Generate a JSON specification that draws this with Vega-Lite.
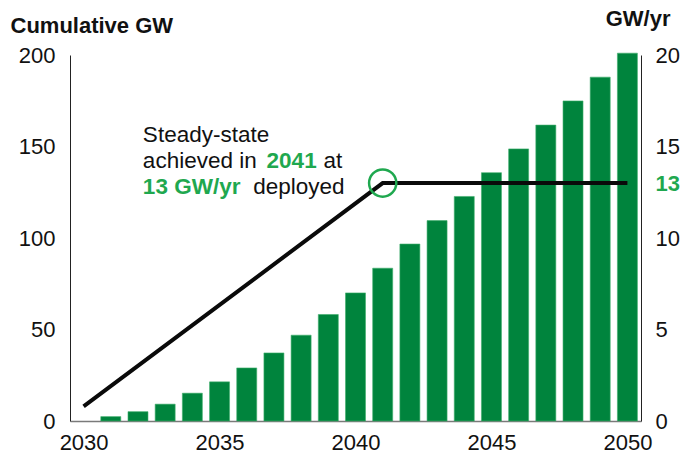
{
  "$schema": "https://vega.github.io/schema/vega-lite/v6.json",
  "width": 571,
  "height": 366,
  "autosize": {"type": "none"},
  "padding": {"left": 70, "top": 55, "right": 43, "bottom": 34},
  "background": "white",
  "config": {
    "view": {"stroke": null},
    "font": "Liberation Sans",
    "axis": {"grid": false, "ticks": false, "tickSize": 0, "labelFont": "Liberation Sans", "labelFontSize": 22, "labelColor": "#111111", "titleFont": "Liberation Sans"}
  },
  "datasets": {
    "bars": [
      {"year": 2031, "cumulative": 2.4},
      {"year": 2032, "cumulative": 5.1},
      {"year": 2033, "cumulative": 9.2},
      {"year": 2034, "cumulative": 15.2},
      {"year": 2035, "cumulative": 21.4},
      {"year": 2036, "cumulative": 29.0},
      {"year": 2037, "cumulative": 37.2},
      {"year": 2038, "cumulative": 46.9},
      {"year": 2039, "cumulative": 58.2},
      {"year": 2040, "cumulative": 70.0},
      {"year": 2041, "cumulative": 83.5},
      {"year": 2042, "cumulative": 96.7},
      {"year": 2043, "cumulative": 109.5},
      {"year": 2044, "cumulative": 122.7},
      {"year": 2045, "cumulative": 135.7},
      {"year": 2046, "cumulative": 148.7},
      {"year": 2047, "cumulative": 161.7},
      {"year": 2048, "cumulative": 174.9},
      {"year": 2049, "cumulative": 187.9},
      {"year": 2050, "cumulative": 201.0}
    ],
    "line": [
      {"year": 2030, "annual": 0.8},
      {"year": 2041, "annual": 13},
      {"year": 2050, "annual": 13}
    ],
    "steady": [
      {"year": 2041, "annual": 13}
    ],
    "notes": [
      {"label": "Steady-state", "year": 2032.18, "gw": 15.26, "kind": "plain"},
      {"label": "achieved in", "year": 2032.18, "gw": 13.81, "kind": "plain"},
      {"label": "2041", "year": 2036.73, "gw": 13.81, "kind": "highlight"},
      {"label": "at", "year": 2038.82, "gw": 13.81, "kind": "plain"},
      {"label": "13 GW/yr", "year": 2032.18, "gw": 12.40, "kind": "highlight"},
      {"label": "deployed", "year": 2036.24, "gw": 12.40, "kind": "plain"}
    ]
  },
  "layer": [
    {
      "data": {"name": "bars"},
      "mark": {"type": "bar", "width": 20, "color": "#00843d", "stroke": "#3fae6c", "strokeWidth": 0.6},
      "encoding": {
        "x": {
          "field": "year", "type": "quantitative",
          "scale": {"domain": [2029.5, 2050.5], "nice": false, "zero": false, "padding": 0},
          "axis": {"values": [2030, 2035, 2040, 2045, 2050], "format": "d", "title": null, "labelPadding": 11, "domainColor": "#7a7a7a", "domainWidth": 1.5, "labelFlush": false}
        },
        "y": {
          "field": "cumulative", "type": "quantitative",
          "scale": {"domain": [0, 200], "nice": false},
          "axis": {
            "orient": "left", "values": [0, 50, 100, 150, 200], "labelPadding": 15,
            "domainColor": "#222222", "domainWidth": 1,
            "title": "Cumulative GW", "titleAngle": 0, "titleAlign": "left", "titleBaseline": "alphabetic",
            "titleX": -60, "titleY": -23, "titleFontSize": 22, "titleFontWeight": "bold", "titleColor": "#111111"
          }
        }
      }
    },
    {
      "layer": [
        {
          "data": {"name": "line"},
          "mark": {"type": "line", "color": "#0a0a0a", "strokeWidth": 4},
          "encoding": {
            "x": {"field": "year", "type": "quantitative"},
            "y": {
              "field": "annual", "type": "quantitative",
              "scale": {"domain": [0, 20], "nice": false},
              "axis": {
                "orient": "right", "values": [0, 5, 10, 13, 15, 20], "labelPadding": 14,
                "domainColor": "#222222", "domainWidth": 1,
                "labelColor": {"condition": {"test": "datum.value === 13", "value": "#1fa84f"}, "value": "#111111"},
                "labelFontWeight": {"condition": {"test": "datum.value === 13", "value": "bold"}, "value": "normal"},
                "title": "GW/yr", "titleAngle": 0, "titleAlign": "right", "titleBaseline": "alphabetic",
                "titleX": 29, "titleY": -30, "titleFontSize": 22, "titleFontWeight": "bold", "titleColor": "#111111"
              }
            }
          }
        },
        {
          "data": {"name": "steady"},
          "mark": {"type": "point", "shape": "circle", "filled": false, "size": 740, "stroke": "#1fa84f", "strokeWidth": 2.5, "opacity": 1},
          "encoding": {
            "x": {"field": "year", "type": "quantitative"},
            "y": {"field": "annual", "type": "quantitative"}
          }
        },
        {
          "data": {"name": "notes"},
          "transform": [{"filter": "datum.kind === 'plain'"}],
          "mark": {"type": "text", "align": "left", "baseline": "alphabetic", "fontSize": 22.5, "color": "#111111", "font": "Liberation Sans"},
          "encoding": {
            "x": {"field": "year", "type": "quantitative"},
            "y": {"field": "gw", "type": "quantitative"},
            "text": {"field": "label"}
          }
        },
        {
          "data": {"name": "notes"},
          "transform": [{"filter": "datum.kind === 'highlight'"}],
          "mark": {"type": "text", "align": "left", "baseline": "alphabetic", "fontSize": 22.5, "fontWeight": "bold", "color": "#1fa84f", "font": "Liberation Sans"},
          "encoding": {
            "x": {"field": "year", "type": "quantitative"},
            "y": {"field": "gw", "type": "quantitative"},
            "text": {"field": "label"}
          }
        }
      ]
    }
  ],
  "resolve": {"scale": {"y": "independent"}}
}
